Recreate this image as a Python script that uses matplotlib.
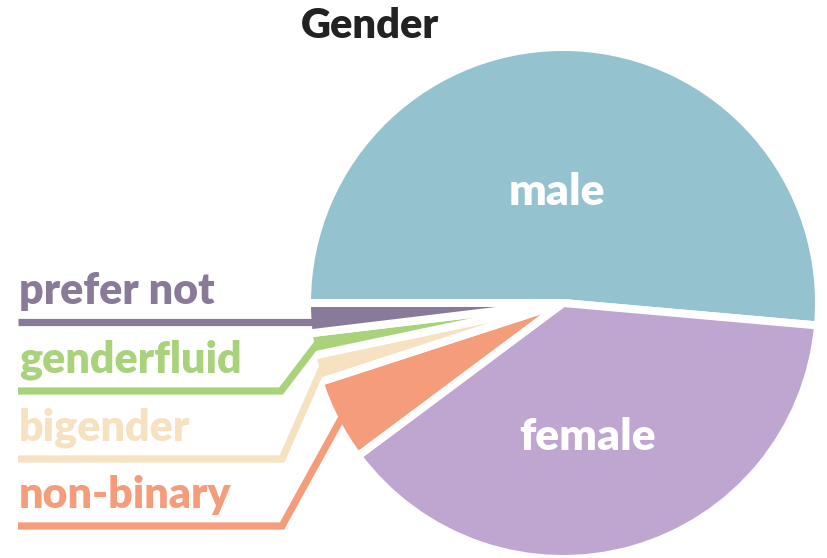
import numpy as np
import matplotlib
matplotlib.use("Agg")
import matplotlib.pyplot as plt

plt.rcParams['font.family'] = ['Lato', 'DejaVu Sans']

# data (share of respondents, %)
categories = ["male", "female", "non-binary", "bigender", "genderfluid", "prefer not"]
shares = [51.4, 38.4, 5.2, 1.7, 1.4, 1.9]
colors = ["#94C3CF", "#BEA6D1", "#F59C7A", "#F6E1C1", "#A8D37B", "#8A7A99"]
title = "Gender"

# layout in pixels (figure is 827 x 558)
W, H = 827, 558
cx, cy = 563, 303
R = 256
edge_px = 8

inside = {"male": (557, 192), "female": (588, 437)}
rows = {  # y of the leader line, x of the elbow
    "prefer not": (322, None),
    "genderfluid": (391, 281),
    "bigender": (459, 282),
    "non-binary": (526, 282),
}

fig = plt.figure(figsize=(W / 100, H / 100), dpi=100)
ax = fig.add_axes([0, 0, 1, 1])

wedges, _ = ax.pie(shares, colors=colors, startangle=180, counterclock=False,
                   center=(cx, H - cy), radius=R,
                   wedgeprops=dict(edgecolor="white", linewidth=edge_px * 0.72,
                                   joinstyle="round"))
ax.set_xlim(0, W)
ax.set_ylim(0, H)
ax.set_aspect("equal")
ax.axis("off")

for name, w in zip(categories, wedges):
    col = w.get_facecolor()
    if name in inside:
        x, y = inside[name]
        ax.text(x, H - y, name, color="white", fontsize=32, fontweight="heavy",
                ha="center", va="center")
        continue
    line_y, elbow = rows[name]
    r_end = w.r - edge_px / 2 - 3
    wx, wy = w.center
    if elbow is None:
        dy = (H - line_y) - wy
        px, py = wx - np.sqrt(r_end ** 2 - dy ** 2), H - line_y
        xs, ys = [18, px], [H - line_y, py]
    else:
        tm = np.deg2rad((w.theta1 + w.theta2) / 2)
        px, py = wx + r_end * np.cos(tm), wy + r_end * np.sin(tm)
        xs, ys = [18, elbow, px], [H - line_y, H - line_y, py]
    ax.plot(xs, ys, color=col, lw=5.2, solid_capstyle="butt",
            solid_joinstyle="miter", zorder=5)
    ax.text(19, H - line_y + 18, name, color=col, fontsize=31,
            fontweight="heavy", ha="left", va="baseline")

ax.text(370, H - 26, title, color="#222222", fontsize=30, fontweight="heavy",
        ha="center", va="center")

fig.savefig("out.png", dpi=100)
